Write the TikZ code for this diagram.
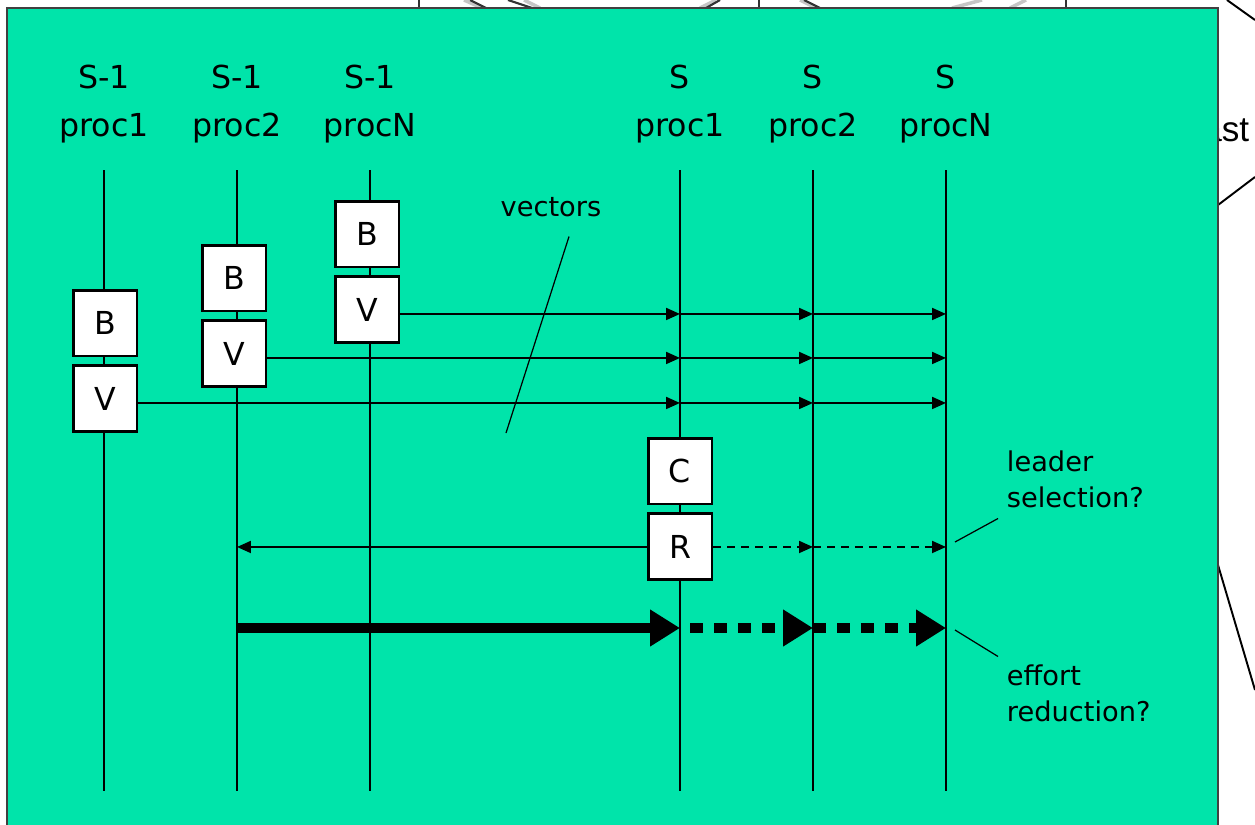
\documentclass[tikz,border=0pt]{standalone}
\usepackage{fontspec}
\setmainfont{DejaVu Sans}
\newfontfamily\behindfont{Liberation Sans}
\usepackage{xcolor}
\usepackage{tikz}
\usetikzlibrary{
  arrows.meta,
  positioning
}
\definecolor{slidegreen}{RGB}{0,228,170}
\tikzset{
  >={Triangle[length=0.28cm,width=0.24cm]},
  line join=miter,
  every picture/.style={line width=1.1pt},
  lifeline/.style={line width=1.2pt},
  head/.style={align=center, font=\fontsize{18}{27}\selectfont},
  msgbox/.style={draw, fill=white, line width=1.7pt, minimum width=1.28cm, minimum height=1.32cm, inner sep=0pt, font=\fontsize{18}{22}\selectfont},
  msg/.style={->, line width=1.1pt},
  reply/.style={->, dash pattern=on 0.16cm off 0.12cm, line width=1.1pt},
  bigmsg/.style={-{Triangle[length=0.6cm,width=0.7cm]}, line width=6pt, line cap=butt},
  bigreply/.style={bigmsg, dash pattern=on 0.26cm off 0.22cm},
  note/.style={align=left, anchor=west, inner sep=0pt, font=\fontsize{15.5}{20.5}\selectfont},
  pointer/.style={line width=0.7pt},
  leftover/.style={line width=1.2pt, draw=black!80},
  leftovergray/.style={line width=2pt, draw=gray!45}
}

\begin{document}
\begin{tikzpicture}[x=0.02cm, y=-0.02cm]
    \useasboundingbox (0,0) rectangle (1255,825);
    % what is left of the slide behind
    \draw[leftover] (419,0) -- (419,8) (759,0) -- (759,8) (1066,0) -- (1066,8);
    \draw[leftovergray] (464,0) -- (482,8) (524,0) -- (540,8) (700,8) -- (716,0)
      (800,0) -- (816,8) (952,8) -- (982,0) (1010,8) -- (1026,0);
    \draw[leftover] (470,0) -- (486,8) (508,0) -- (532,8) (706,8) -- (720,0) (804,0) -- (820,8);
    \node[anchor=east, font=\behindfont\fontsize{20}{24}\selectfont] (behind) at (1256,130) {ast};
    \draw (1218,205) -- (1255,177);
    \draw (1218,565) -- (1255,690);
    \draw (1227,0) -- (1255,20);
    % the slide
    \draw[fill=slidegreen, draw=black!75, line width=1pt] (7,8) rectangle (1218,832);
    % processes
    \foreach \nm/\x/\st/\pr in {a/104/S-1/proc1, b/237/S-1/proc2, c/370/S-1/procN,
                                d/680/S/proc1, e/813/S/proc2, f/946/S/procN}{
      \node[head] (h\nm) at (\x,104) {\st\\\pr};
      \coordinate (t\nm) at (\x,170);
      \coordinate (e\nm) at (\x,791);
      \draw[lifeline] (t\nm) -- (e\nm);
    }
    % boxes
    \node[msgbox] (Ba) at (105,323) {B};
    \node[msgbox, below=0.14cm of Ba] (Va) {V};
    \node[msgbox] (Bb) at (234,278) {B};
    \node[msgbox, below=0.14cm of Bb] (Vb) {V};
    \node[msgbox] (Bc) at (367,234) {B};
    \node[msgbox, below=0.14cm of Bc] (Vc) {V};
    \node[msgbox] (C) at (680,471) {C};
    \node[msgbox, below=0.14cm of C] (R) {R};
    % vectors sent on
    \foreach \v in {Va,Vb,Vc}{
      \coordinate (o\v) at ([yshift=-0.08cm]\v.east);
      \draw[msg] (o\v) -- (o\v -| td);
      \draw[msg] (o\v -| td) -- (o\v -| te);
      \draw[msg] (o\v -| te) -- (o\v -| tf);
    }
    % result
    \draw[msg] (R.west) -- (R.west -| tb);
    \draw[reply] (R.east) -- (R.east -| te);
    \draw[reply] (R.east -| te) -- (R.east -| tf);
    \coordinate (go) at (237,628);
    \draw[bigmsg] (go) -- (go -| td);
    \path (go -| td) ++(10,0) coordinate (gd);
    \draw[bigreply] (gd) -- (go -| te);
    \draw[bigreply] (go -| te) -- (go -| tf);
    % notes
    \node[font=\fontsize{15.5}{20.5}\selectfont] (vec) at (551,207) {vectors};
    \coordinate (vecend) at (506,433);
    \draw[pointer] ([xshift=0.36cm,yshift=-0.26cm]vec.south) -- (vecend);
    \node[note] (lead) at (1006,479) {leader\\selection?};
    \coordinate (leadtip) at (955,542);
    \draw[pointer] ([xshift=-0.16cm,yshift=-0.2cm]lead.south west) -- (leadtip);
    \node[note] (eff) at (1006,693) {effort\\reduction?};
    \coordinate (efftip) at (955,630);
    \draw[pointer] ([xshift=-0.16cm,yshift=0.14cm]eff.north west) -- (efftip);
  \end{tikzpicture}
\end{document}
